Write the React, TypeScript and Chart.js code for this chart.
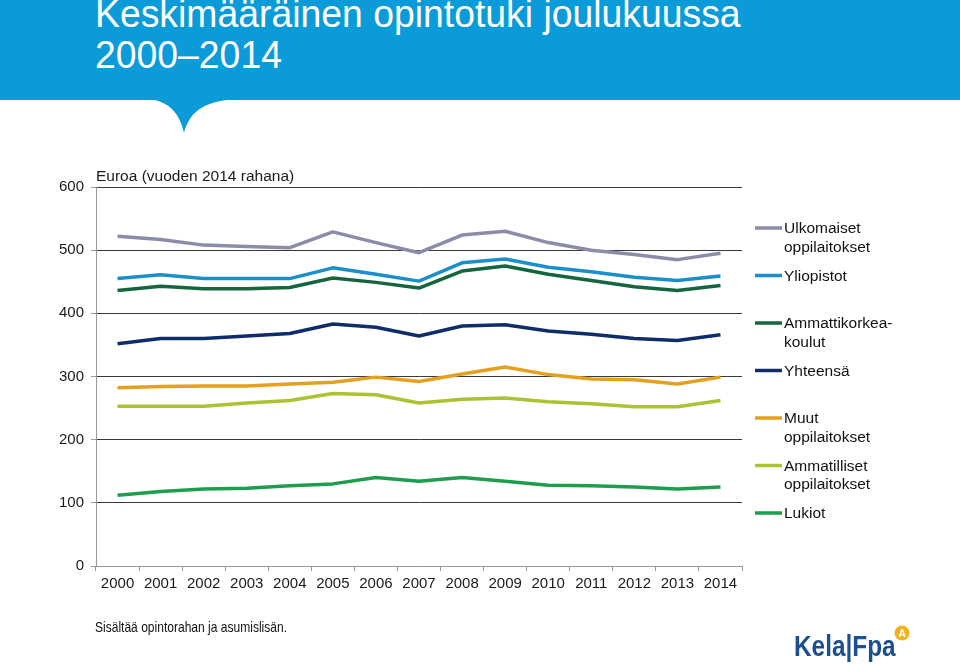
import React, { useEffect, useRef } from "react";
import { Chart, registerables } from "chart.js";

Chart.register(...registerables);

const years = ["2000", "2001", "2002", "2003", "2004", "2005", "2006", "2007", "2008", "2009", "2010", "2011", "2012", "2013", "2014"];

const ulkomaiset = [522, 517, 508, 506, 504, 529, 512, 496, 524, 530, 512, 500, 493, 485, 495];
const yliopistot = [455, 461, 455, 455, 455, 472, 462, 451, 480, 486, 473, 466, 457, 452, 459];
const ammattikorkeakoulut = [436, 443, 439, 439, 441, 456, 449, 440, 467, 475, 462, 452, 442, 436, 444];
const yhteensa = [352, 360, 360, 364, 368, 383, 378, 364, 380, 382, 372, 367, 360, 357, 366];
const muut = [282, 284, 285, 285, 288, 291, 299, 292, 304, 315, 303, 296, 295, 288, 299];
const ammatilliset = [253, 253, 253, 258, 262, 273, 271, 258, 264, 266, 260, 257, 252, 252, 262];
const lukiot = [112, 118, 122, 123, 127, 130, 140, 134, 140, 134, 128, 127, 125, 122, 125];

const seriesLabels = [
  ["Ulkomaiset", "oppilaitokset"],
  ["Yliopistot"],
  ["Ammattikorkea-", "koulut"],
  ["Yhteensä"],
  ["Muut", "oppilaitokset"],
  ["Ammatilliset", "oppilaitokset"],
  ["Lukiot"],
];
const seriesValues = [ulkomaiset, yliopistot, ammattikorkeakoulut, yhteensa, muut, ammatilliset, lukiot];
const seriesColors = ["#8b8ca8", "#1b8fc9", "#15663d", "#0f2d6b", "#e3a11f", "#a9c433", "#1d9e4f"];

const yAxisTitle = "Euroa (vuoden 2014 rahana)";
const FONT = "Arial, 'Liberation Sans', sans-serif";

const extrasPlugin = {
  id: "extras",
  afterDraw(chart: any) {
    const ctx = chart.ctx;
    const area = chart.chartArea;
    ctx.save();
    ctx.fillStyle = "#1a1a1a";
    ctx.font = `15.5px ${FONT}`;
    ctx.textAlign = "left";
    ctx.textBaseline = "middle";
    ctx.fillText(yAxisTitle, area.left, area.top - 10);

    // legend
    const lx0 = area.right + 13;
    const lx1 = lx0 + 27;
    const tx = lx1 + 2;
    const startY = 228;
    const step = 47.5;
    const lineH = 18.5;
    chart.data.datasets.forEach((ds: any, i: number) => {
      const y = startY + i * step;
      ctx.strokeStyle = ds.borderColor;
      ctx.lineWidth = 3.5;
      ctx.beginPath();
      ctx.moveTo(lx0, y);
      ctx.lineTo(lx1, y);
      ctx.stroke();
      ctx.fillStyle = "#111";
      ctx.font = `15.5px ${FONT}`;
      (ds.labelLines as string[]).forEach((t, k) => {
        ctx.fillText(t, tx, y + 1 + k * lineH);
      });
    });
    ctx.restore();
  },
};

function ChartCanvas() {
  const ref = useRef<HTMLCanvasElement | null>(null);
  useEffect(() => {
    if (!ref.current) return;
    const chart = new Chart(ref.current, {
      type: "line",
      data: {
        labels: years,
        datasets: seriesValues.map((vals, i) => ({
          label: seriesLabels[i].join(" "),
          labelLines: seriesLabels[i],
          data: vals,
          borderColor: seriesColors[i],
          backgroundColor: seriesColors[i],
          borderWidth: 3.5,
          pointRadius: 0,
          tension: 0,
          borderJoinStyle: "round",
          fill: false,
        })) as any,
      },
      options: {
        responsive: false,
        animation: false,
        devicePixelRatio: 1,
        layout: { padding: { top: 187, left: 0, right: 218, bottom: 0 } },
        plugins: {
          legend: { display: false },
          tooltip: { enabled: false },
          title: { display: false },
        },
        scales: {
          x: {
            type: "category",
            offset: true,
            grid: {
              offset: true,
              drawOnChartArea: false,
              drawTicks: true,
              tickLength: 5,
              color: "#9a9a9a",
            },
            border: { display: true, color: "#9a9a9a", width: 1 },
            ticks: {
              color: "#1a1a1a",
              font: { size: 15, family: FONT },
              padding: 4,
              maxRotation: 0,
              autoSkip: false,
            },
            afterFit(scale: any) {
              scale.height = 100;
            },
          },
          y: {
            min: 0,
            max: 600,
            ticks: {
              stepSize: 100,
              color: "#1a1a1a",
              font: { size: 15, family: FONT },
              padding: 7,
            },
            grid: {
              color: (c: any) => (c.tick && c.tick.value === 0 ? "rgba(0,0,0,0)" : "#3a3a3a"),
              tickColor: "#9a9a9a",
              tickLength: 5,
              lineWidth: 1,
            },
            border: { display: true, color: "#9a9a9a", width: 1 },
            afterFit(scale: any) {
              scale.width = 96;
            },
          },
        },
      } as any,
      plugins: [extrasPlugin],
    });
    return () => chart.destroy();
  }, []);
  return <canvas ref={ref} width={960} height={666} style={{ position: "absolute", left: 0, top: 0, width: 960, height: 666 }} />;
}

export default function App() {
  return (
    <div style={{ position: "fixed", left: 0, top: 0, width: 960, height: 666, background: "#fff", overflow: "hidden", fontFamily: FONT }}>
      <div style={{ position: "absolute", left: 0, top: 0, width: 960, height: 100, background: "#0b9bd8" }} />
      <svg width={960} height={140} style={{ position: "absolute", left: 0, top: 0 }}>
        <path d="M146,99 C166,100 179,110 184,133 C190,110 206,100 241,99 Z" fill="#0b9bd8" />
      </svg>
      <div
        style={{
          position: "absolute",
          left: 95,
          top: -7.4,
          color: "#fff",
          fontSize: 38.5,
          lineHeight: "41.6px",
          whiteSpace: "nowrap",
          transform: "scaleX(0.97)",
          transformOrigin: "0 0",
        }}
      >
        <div>Keskimääräinen opintotuki joulukuussa</div>
        <div>2000–2014</div>
      </div>
      <ChartCanvas />
      <div
        style={{
          position: "absolute",
          left: 95,
          top: 618,
          fontSize: 14.5,
          lineHeight: "18px",
          color: "#111",
          whiteSpace: "nowrap",
          transform: "scaleX(0.83)",
          transformOrigin: "0 0",
        }}
      >
        Sisältää opintorahan ja asumislisän.
      </div>
      <div
        style={{
          position: "absolute",
          left: 794,
          top: 630,
          fontSize: 29,
          fontWeight: 700,
          lineHeight: "33px",
          color: "#1b4e92",
          whiteSpace: "nowrap",
          transform: "scaleX(0.84)",
          transformOrigin: "0 0",
        }}
      >
        Kela|Fpa
      </div>
      <svg width={20} height={20} style={{ position: "absolute", left: 892, top: 623 }}>
        <circle cx={10} cy={10} r={7.5} fill="#f2b21b" />
        <text x={10} y={14} textAnchor="middle" fontSize={10} fontWeight={700} fill="#fff" fontFamily={FONT}>
          A
        </text>
      </svg>
    </div>
  );
}
